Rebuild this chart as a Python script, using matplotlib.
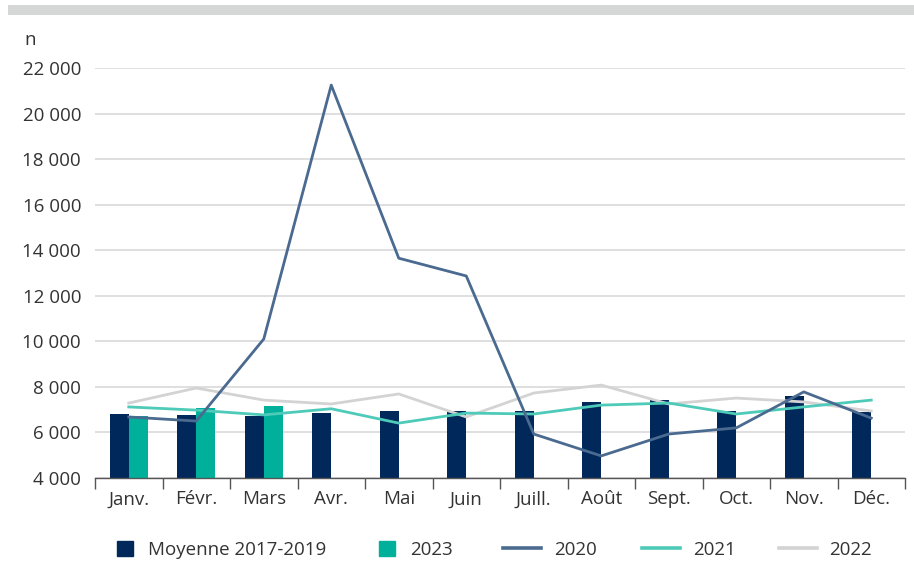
import matplotlib
matplotlib.use("Agg")
import matplotlib.pyplot as plt
import numpy as np
from matplotlib.patches import Rectangle
from matplotlib.lines import Line2D
from matplotlib.ticker import FuncFormatter

plt.rcParams['font.family'] = ['Open Sans', 'DejaVu Sans']

months = ["Janv.", "Févr.", "Mars", "Avr.", "Mai", "Juin", "Juill.", "Août", "Sept.", "Oct.", "Nov.", "Déc."]
moyenne = [6810, 6770, 6720, 6850, 6940, 6920, 6940, 7340, 7420, 6940, 7600, 6900]
y2023 = [6720, 7070, 7160]
y2020 = [6680, 6500, 10100, 21250, 13650, 12870, 5930, 4970, 5930, 6200, 7780, 6630]
y2021 = [7120, 6980, 6770, 7040, 6410, 6850, 6810, 7200, 7290, 6810, 7120, 7420]
y2022 = [7290, 7950, 7420, 7250, 7690, 6680, 7730, 8080, 7250, 7510, 7340, 6940]

c_moy = "#00285a"
c_23 = "#00b09b"
c_20 = "#4b6a90"
c_21 = "#4ecab8"
c_22 = "#d3d3d3"
txt = "#333333"

fig = plt.figure(figsize=(9.14, 5.62), dpi=100)
fig.patches.append(Rectangle((8/914, 1-15/562), 906/914, 10/562, transform=fig.transFigure,
                             facecolor="#d5d7d6", edgecolor="none"))
ax = fig.add_axes([95/914, 1-478/562, 810/914, 410/562])

x = np.arange(len(months))
w = 0.28
ax.bar(x - w/2, moyenne, width=w, color=c_moy, zorder=2)
ax.bar(x[:len(y2023)] + w/2, y2023, width=w, color=c_23, zorder=2)
ax.plot(x, y2022, color=c_22, lw=2.0, zorder=3)
ax.plot(x, y2021, color=c_21, lw=2.0, zorder=4)
ax.plot(x, y2020, color=c_20, lw=2.0, zorder=5)

ax.set_ylim(4000, 22000)
ax.set_xlim(-0.5, 11.5)
ax.set_yticks(np.arange(4000, 22001, 2000))
ax.yaxis.set_major_formatter(FuncFormatter(lambda v, p: f"{int(v):,}".replace(",", " ")))
ax.grid(axis="y", color="#d9d9d9", lw=1.2, zorder=0)
ax.set_axisbelow(True)
for s in ["top", "right", "left"]:
    ax.spines[s].set_visible(False)
ax.spines["bottom"].set_color("#555555")
ax.spines["bottom"].set_linewidth(1.0)
ax.tick_params(axis="y", length=0, pad=10, labelsize=13.5, labelcolor=txt)
ax.set_xticks(x)
ax.set_xticklabels(months)
ax.tick_params(axis="x", which="major", length=0, pad=9, labelsize=13.5, labelcolor=txt)
ax.set_xticks(np.arange(-0.5, 12, 1), minor=True)
ax.tick_params(axis="x", which="minor", length=8, width=1.0, color="#555555")

fig.text(24/914, 1-40/562, "n", fontsize=13.5, color=txt, va="center", ha="left")

fs = 13.5
entries = [
    (Rectangle((0, 0), 1, 1, color=c_moy), "Moyenne 2017-2019", 117, 0.85, 0.8),
    (Rectangle((0, 0), 1, 1, color=c_23), "2023", 379, 0.85, 0.8),
    (Line2D([], [], color=c_20, lw=2.6), "2020", 503, 2.05, 0.7),
    (Line2D([], [], color=c_21, lw=2.6), "2021", 642, 2.0, 0.7),
    (Line2D([], [], color=c_22, lw=2.6), "2022", 779, 2.0, 0.7),
]
for h, lab, xpix, hl, tp in entries:
    leg = fig.legend([h], [lab], loc="center left", bbox_to_anchor=(xpix/914, 1-550/562),
                     frameon=False, fontsize=fs, handlelength=hl, handleheight=0.8,
                     handletextpad=tp, borderpad=0, borderaxespad=0, labelcolor=txt)

fig.savefig("out.png", dpi=100)
